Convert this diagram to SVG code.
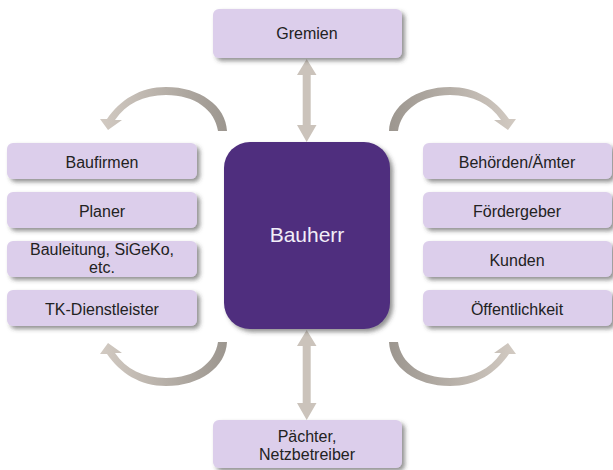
<svg xmlns="http://www.w3.org/2000/svg" width="613" height="470" viewBox="0 0 613 470">
<defs>
<filter id="sh" x="-10%" y="-20%" width="130%" height="160%">
<feDropShadow dx="3" dy="3" stdDeviation="2" flood-color="#3a3a3a" flood-opacity="0.55"/>
</filter>
<linearGradient id="cg" x1="100" y1="0" x2="227" y2="0" gradientUnits="userSpaceOnUse">
<stop offset="0" stop-color="#D2CAC2"/>
<stop offset="1" stop-color="#9C968F"/>
</linearGradient>
<symbol id="curve" overflow="visible">
<path d="M227,131 C226,106 200,87 166,87 C140,87 120,100 107,119 L100,119 L108,130 L122,120 L115,120 C126,104 143,95 166,95 C195,95 215,110 218,131 Z" fill="url(#cg)"/>
</symbol>
</defs>
<style>
.box{fill:#DCCEEB;filter:url(#sh);}
.main{fill:#4F2E7E;filter:url(#sh);}
.t{font-family:"Liberation Sans",Arial,sans-serif;font-size:16px;fill:#222;text-anchor:middle;}
.tm{font-family:"Liberation Sans",Arial,sans-serif;font-size:21px;fill:#F2EEF8;text-anchor:middle;}
.va{fill:#CBC3BB;}
</style>
<rect width="613" height="470" fill="#fff"/>
<g id="connectors">
<path class="va" d="M306.7,59 L316.5,75 L310.7,75 L310.7,125 L316.5,125 L306.7,142 L297,125 L302.7,125 L302.7,75 L297,75 Z"/>
<path class="va" d="M306.7,330 L316.5,346 L310.7,346 L310.7,403 L316.5,403 L306.7,420 L297,403 L302.7,403 L302.7,346 L297,346 Z"/>
<use href="#curve"/>
<use href="#curve" transform="translate(616,0) scale(-1,1)"/>
<use href="#curve" transform="translate(0,473) scale(1,-1)"/>
<use href="#curve" transform="translate(616,473) scale(-1,-1)"/>
</g>
<g id="gremien"><rect class="box" x="213" y="9" width="189" height="49" rx="6"/><text class="t" x="307" y="39">Gremien</text></g>
<g id="bauherr"><rect class="main" x="224" y="142" width="166" height="187" rx="26"/><text class="tm" x="307" y="242">Bauherr</text></g>
<g id="paechter"><rect class="box" x="213" y="420" width="189" height="48" rx="6"/><text class="t" x="307" y="442">Pächter,</text><text class="t" x="307" y="460">Netzbetreiber</text></g>
<g id="baufirmen"><rect class="box" x="7" y="143" width="190" height="36" rx="6"/><text class="t" x="102" y="168">Baufirmen</text></g>
<g id="planer"><rect class="box" x="7" y="192" width="190" height="36" rx="6"/><text class="t" x="102" y="217">Planer</text></g>
<g id="bauleitung"><rect class="box" x="7" y="241" width="190" height="36" rx="6"/><text class="t" x="102" y="255">Bauleitung, SiGeKo,</text><text class="t" x="102" y="273">etc.</text></g>
<g id="tk"><rect class="box" x="7" y="290" width="190" height="36" rx="6"/><text class="t" x="102" y="315">TK-Dienstleister</text></g>
<g id="behoerden"><rect class="box" x="423" y="143" width="189" height="36" rx="6"/><text class="t" x="517" y="168">Behörden/Ämter</text></g>
<g id="foerdergeber"><rect class="box" x="423" y="192" width="189" height="36" rx="6"/><text class="t" x="517" y="217">Fördergeber</text></g>
<g id="kunden"><rect class="box" x="423" y="241" width="189" height="36" rx="6"/><text class="t" x="517" y="266">Kunden</text></g>
<g id="oeffentlichkeit"><rect class="box" x="423" y="290" width="189" height="36" rx="6"/><text class="t" x="517" y="315">Öffentlichkeit</text></g>
</svg>
